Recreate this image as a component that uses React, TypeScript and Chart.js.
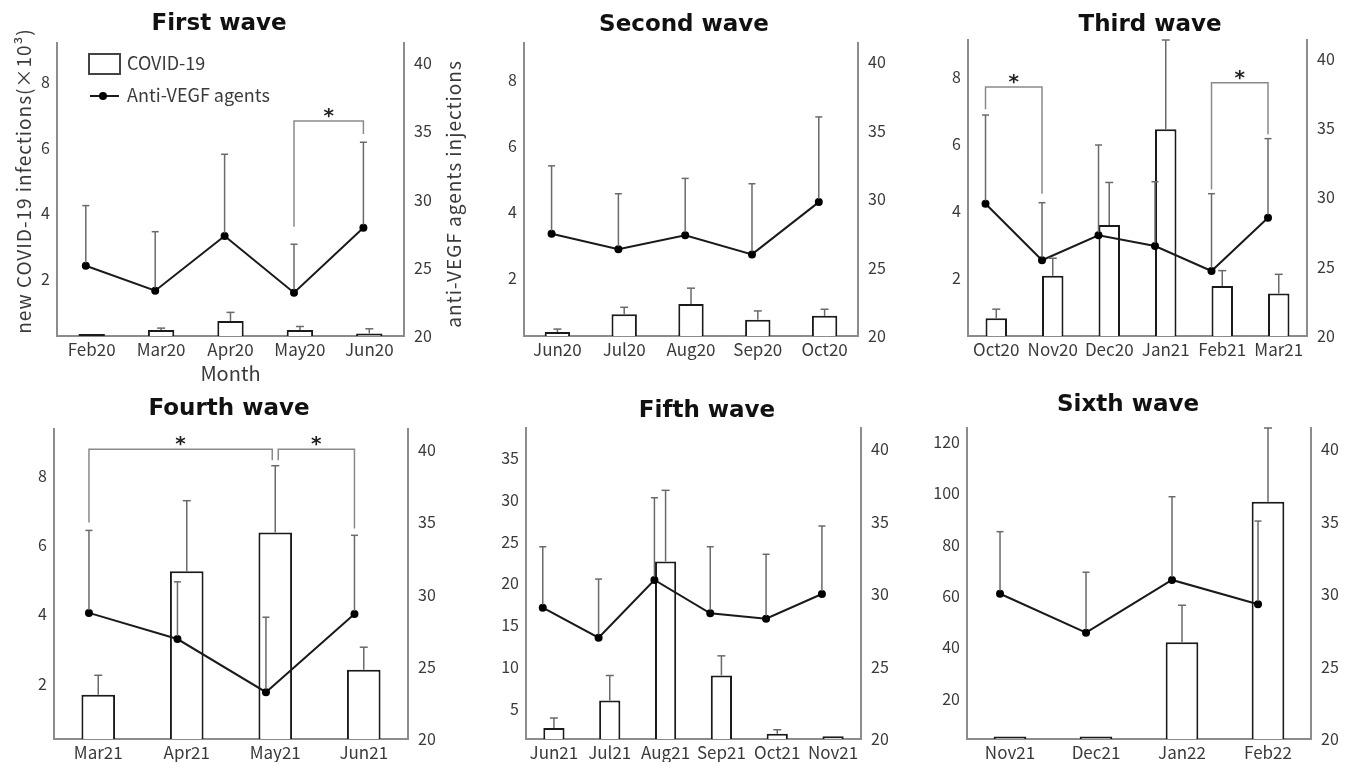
import React, { useEffect, useRef } from "react";
import { Chart, registerables } from "chart.js";

Chart.register(...registerables);

// ---------------- data ----------------
const wave1Months = ["Feb20", "Mar20", "Apr20", "May20", "Jun20"];
const wave1Covid = [0.32, 0.44, 0.72, 0.44, 0.34];
const wave1CovidSD = [0, 0.06, 0.26, 0.11, 0.14];
const wave1Vegf = [25.15, 23.32, 27.33, 23.17, 27.93];
const wave1VegfSD = [4.4, 4.32, 5.98, 3.55, 6.26];
const wave1Sig = [{ from: 3, to: 4, top: 35.75, fromEnd: 28.0, toEnd: 34.8 }];

const wave2Months = ["Jun20", "Jul20", "Aug20", "Sep20", "Oct20"];
const wave2Covid = [0.36, 0.9, 1.21, 0.73, 0.85];
const wave2CovidSD = [0.09, 0.21, 0.48, 0.27, 0.2];
const wave2Vegf = [27.47, 26.33, 27.35, 25.96, 29.78];
const wave2VegfSD = [4.96, 4.06, 4.16, 5.16, 6.22];
const wave2Sig: Sig[] = [];

const wave3Months = ["Oct20", "Nov20", "Dec20", "Jan21", "Feb21", "Mar21"];
const wave3Covid = [0.8, 2.07, 3.58, 6.44, 1.76, 1.54];
const wave3CovidSD = [0.27, 0.52, 1.27, 2.66, 0.46, 0.57];
const wave3Vegf = [29.54, 25.46, 27.26, 26.49, 24.69, 28.53];
const wave3VegfSD = [6.39, 4.15, 6.51, 4.63, 5.57, 5.7];
const wave3Sig = [
  { from: 0, to: 1, top: 37.95, fromEnd: 36.34, toEnd: 30.26 },
  { from: 4, to: 5, top: 38.26, fromEnd: 30.57, toEnd: 34.54 },
];

const wave4Months = ["Mar21", "Apr21", "May21", "Jun21"];
const wave4Covid = [1.68, 5.24, 6.36, 2.4];
const wave4CovidSD = [0.56, 2.04, 1.93, 0.65];
const wave4Vegf = [28.73, 26.92, 23.24, 28.66];
const wave4VegfSD = [5.71, 3.96, 5.19, 5.44];
const wave4Sig = [
  { from: 0, to: 2, top: 40.05, fromEnd: 34.98, toEnd: 39.3 },
  { from: 2, to: 3, top: 40.05, fromEnd: 39.3, toEnd: 34.58 },
];

const wave5Months = ["Jun21", "Jul21", "Aug21", "Sep21", "Oct21", "Nov21"];
const wave5Covid = [2.69, 5.99, 22.63, 8.98, 2.02, 1.7];
const wave5CovidSD = [1.2, 2.99, 8.51, 2.35, 0.47, 0];
const wave5Vegf = [29.06, 26.99, 30.97, 28.67, 28.3, 30.0];
const wave5VegfSD = [4.2, 4.04, 5.67, 4.59, 4.44, 4.69];
const wave5Sig: Sig[] = [];

const wave6Months = ["Nov21", "Dec21", "Jan22", "Feb22"];
const wave6Covid = [5.3, 5.3, 42.0, 96.7];
const wave6CovidSD = [0, 0, 14.4, 28.7];
const wave6Vegf = [30.02, 27.33, 30.97, 29.29];
const wave6VegfSD = [4.28, 4.17, 5.74, 5.74];
const wave6Sig: Sig[] = [];

const smallTicks = [2, 4, 6, 8];
const fifthTicks = [5, 10, 15, 20, 25, 30, 35];
const sixthTicks = [20, 40, 60, 80, 100, 120];
const rightTicks = [20, 25, 30, 35, 40];

const covidLabel = "COVID-19";
const vegfLabel = "Anti-VEGF agents";
const leftTitle = "new COVID-19 infections(×10³)";
const rightTitle = "anti-VEGF agents injections";
const xTitle = "Month";

// ---------------- styling ----------------
type Sig = { from: number; to: number; top: number; fromEnd: number; toEnd: number };

const AXIS = "#8c8c8c";
const TXT = "#3a3a3a";
const ERR = "#6a6a6a";
const BRACKET = "#8a8a8a";
const INK = "#1a1a1a";
const FONT = '"Noto Sans CJK JP", "Noto Sans", sans-serif';
const TITLE_FONT = '"DejaVu Sans", sans-serif';

type PanelCfg = {
  title: string;
  titleX: number;
  titleY: number;
  box: { x: number; y: number; w: number; h: number };
  area: { L: number; T: number; R: number; B: number };
  months: string[];
  covid: number[];
  covidSD: number[];
  vegf: number[];
  vegfSD: number[];
  sig: Sig[];
  leftTicks: number[];
  leftMin: number;
  leftMax: number;
  rightMax: number;
  shift: number;
  first?: boolean;
};

const panels: PanelCfg[] = [
  {
    title: "First wave", titleX: 219, titleY: 29.5,
    box: { x: 0, y: 0, w: 470, h: 390 }, area: { L: 57, T: 43, R: 404, B: 336 },
    months: wave1Months, covid: wave1Covid, covidSD: wave1CovidSD, vegf: wave1Vegf, vegfSD: wave1VegfSD, sig: wave1Sig,
    leftTicks: smallTicks, leftMin: 0.26, leftMax: 9.19, rightMax: 41.46, shift: 0.085, first: true,
  },
  {
    title: "Second wave", titleX: 684, titleY: 30.5,
    box: { x: 470, y: 0, w: 430, h: 390 }, area: { L: 524, T: 43, R: 858, B: 336 },
    months: wave2Months, covid: wave2Covid, covidSD: wave2CovidSD, vegf: wave2Vegf, vegfSD: wave2VegfSD, sig: wave2Sig,
    leftTicks: smallTicks, leftMin: 0.24, leftMax: 9.12, rightMax: 41.4, shift: 0.087,
  },
  {
    title: "Third wave", titleX: 1150, titleY: 30.5,
    box: { x: 905, y: 0, w: 447, h: 390 }, area: { L: 968, T: 40, R: 1307, B: 336 },
    months: wave3Months, covid: wave3Covid, covidSD: wave3CovidSD, vegf: wave3Vegf, vegfSD: wave3VegfSD, sig: wave3Sig,
    leftTicks: smallTicks, leftMin: 0.27, leftMax: 9.1, rightMax: 41.34, shift: 0.19,
  },
  {
    title: "Fourth wave", titleX: 229, titleY: 415,
    box: { x: 0, y: 385, w: 460, h: 377 }, area: { L: 54, T: 429, R: 408, B: 739 },
    months: wave4Months, covid: wave4Covid, covidSD: wave4CovidSD, vegf: wave4Vegf, vegfSD: wave4VegfSD, sig: wave4Sig,
    leftTicks: smallTicks, leftMin: 0.4, leftMax: 9.35, rightMax: 41.46, shift: 0.105,
  },
  {
    title: "Fifth wave", titleX: 707, titleY: 416.5,
    box: { x: 460, y: 385, w: 440, h: 377 }, area: { L: 526, T: 428, R: 861, B: 739 },
    months: wave5Months, covid: wave5Covid, covidSD: wave5CovidSD, vegf: wave5Vegf, vegfSD: wave5VegfSD, sig: wave5Sig,
    leftTicks: fifthTicks, leftMin: 1.38, leftMax: 38.6, rightMax: 41.45, shift: 0.2,
  },
  {
    title: "Sixth wave", titleX: 1128, titleY: 411,
    box: { x: 905, y: 385, w: 447, h: 377 }, area: { L: 967, T: 428, R: 1311, B: 739 },
    months: wave6Months, covid: wave6Covid, covidSD: wave6CovidSD, vegf: wave6Vegf, vegfSD: wave6VegfSD, sig: wave6Sig,
    leftTicks: sixthTicks, leftMin: 4.34, leftMax: 125.4, rightMax: 41.45, shift: 0.116,
  },
];

function seg(ctx: CanvasRenderingContext2D, x1: number, y1: number, x2: number, y2: number) {
  ctx.beginPath();
  ctx.moveTo(x1, y1);
  ctx.lineTo(x2, y2);
  ctx.stroke();
}

function makeDecor(p: PanelCfg) {
  return {
    id: "decor",
    afterDatasetsDraw(chart: any) {
      const ctx: CanvasRenderingContext2D = chart.ctx;
      const yl = chart.scales.y;
      const yr = chart.scales.y1;
      const lineMeta = chart.getDatasetMeta(0);
      const barMeta = chart.getDatasetMeta(1);
      ctx.save();
      ctx.strokeStyle = ERR;
      ctx.lineWidth = 1.5;
      barMeta.data.forEach((el: any, i: number) => {
        const sd = p.covidSD[i];
        if (!sd) return;
        const yc = yl.getPixelForValue(p.covid[i] + sd);
        seg(ctx, el.x, el.y, el.x, yc);
        seg(ctx, el.x - 4, yc, el.x + 4, yc);
      });
      lineMeta.data.forEach((el: any, i: number) => {
        const sd = p.vegfSD[i];
        if (!sd) return;
        const yc = yr.getPixelForValue(p.vegf[i] + sd);
        seg(ctx, el.x, el.y - 3, el.x, yc);
        seg(ctx, el.x - 3.5, yc, el.x + 3.5, yc);
      });
      // significance brackets
      ctx.strokeStyle = BRACKET;
      ctx.lineWidth = 1.5;
      ctx.fillStyle = "#222";
      ctx.font = `bold 20px ${TITLE_FONT}`;
      ctx.textAlign = "center";
      ctx.textBaseline = "alphabetic";
      p.sig.forEach((s) => {
        const sharedFrom = p.sig.some((o) => o !== s && o.to === s.from);
        const sharedTo = p.sig.some((o) => o !== s && o.from === s.to);
        const xa = sharedFrom ? barMeta.data[s.from].x + 3 : lineMeta.data[s.from].x;
        const xb = sharedTo ? barMeta.data[s.to].x - 3 : lineMeta.data[s.to].x;
        const yt = yr.getPixelForValue(s.top);
        ctx.beginPath();
        ctx.moveTo(xa, yr.getPixelForValue(s.fromEnd));
        ctx.lineTo(xa, yt);
        ctx.lineTo(xb, yt);
        ctx.lineTo(xb, yr.getPixelForValue(s.toEnd));
        ctx.stroke();
        ctx.fillText("*", (xa + xb) / 2, yt + 1);
      });
      ctx.restore();
    },
    afterDraw(chart: any) {
      const ctx: CanvasRenderingContext2D = chart.ctx;
      const ox = p.box.x;
      const oy = p.box.y;
      ctx.save();
      ctx.fillStyle = "#111";
      ctx.font = `bold 23px ${TITLE_FONT}`;
      ctx.textAlign = "center";
      ctx.textBaseline = "alphabetic";
      ctx.fillText(p.title, p.titleX - ox, p.titleY - oy);

      if (p.first) {
        ctx.fillStyle = TXT;
        ctx.textBaseline = "middle";
        // axis titles (rotated, reading bottom to top)
        ctx.save();
        ctx.font = `19px ${FONT}`;
        (ctx as any).letterSpacing = "1px";
        ctx.translate(24 - ox, 181 - oy);
        ctx.rotate(-Math.PI / 2);
        ctx.textAlign = "center";
        ctx.fillText(leftTitle, 0, 0);
        ctx.restore();
        ctx.save();
        ctx.font = `19px ${FONT}`;
        (ctx as any).letterSpacing = "1px";
        ctx.translate(454 - ox, 194 - oy);
        ctx.rotate(-Math.PI / 2);
        ctx.textAlign = "center";
        ctx.fillText(rightTitle, 0, 0);
        ctx.restore();
        // legend
        ctx.font = `18px ${FONT}`;
        ctx.strokeStyle = "#444";
        ctx.lineWidth = 2;
        ctx.fillStyle = "#fff";
        ctx.fillRect(89, 54, 31, 20);
        ctx.strokeRect(89, 54, 31, 20);
        ctx.strokeStyle = INK;
        seg(ctx, 90, 96, 119, 96);
        ctx.fillStyle = "#000";
        ctx.beginPath();
        ctx.arc(103, 96, 4, 0, Math.PI * 2);
        ctx.fill();
        ctx.fillStyle = TXT;
        ctx.textAlign = "left";
        ctx.fillText(covidLabel, 127, 63);
        ctx.fillText(vegfLabel, 127, 95);
      }
      ctx.restore();
    },
  };
}

function buildConfig(p: PanelCfg): any {
  const n = p.months.length;
  const leftW = p.area.L - p.box.x;
  const rightW = p.box.x + p.box.w - p.area.R;
  const bottomH = p.box.y + p.box.h - p.area.B;
  const noGrid = { display: false, drawTicks: false };
  const border = { display: true, color: AXIS, width: 2 };
  return {
    type: "bar",
    data: {
      labels: p.months,
      datasets: [
        {
          type: "line",
          label: vegfLabel,
          data: p.vegf.map((v, i) => ({ x: i, y: v })),
          xAxisID: "xl",
          yAxisID: "y1",
          order: 0,
          borderColor: INK,
          borderWidth: 2,
          pointRadius: 4,
          pointBackgroundColor: "#000",
          pointBorderWidth: 0,
          tension: 0,
          fill: false,
        },
        {
          type: "bar",
          label: covidLabel,
          data: p.covid,
          xAxisID: "x",
          yAxisID: "y",
          order: 1,
          grouped: false,
          backgroundColor: "#fff",
          borderColor: INK,
          borderWidth: 2,
          barPercentage: 0.38,
          categoryPercentage: 1,
        },
      ],
    },
    options: {
      responsive: false,
      animation: false,
      devicePixelRatio: 1,
      layout: { padding: { top: p.area.T - p.box.y, left: 0, right: 0, bottom: 0 } },
      plugins: { legend: { display: false }, tooltip: { enabled: false }, title: { display: false } },
      scales: {
        x: {
          type: "category",
          position: "bottom",
          offset: true,
          grid: noGrid,
          border,
          ticks: { color: TXT, font: { family: FONT, size: 17 }, padding: 3, maxRotation: 0, autoSkip: false },
          title: p.first
            ? { display: true, text: xTitle, color: TXT, font: { family: FONT, size: 20 }, padding: { top: 0, bottom: 5 } }
            : { display: false },
          afterFit: (s: any) => {
            s.height = bottomH;
          },
        },
        xl: {
          type: "linear",
          display: false,
          offset: false,
          min: -0.5 + p.shift,
          max: n - 0.5 + p.shift,
          grid: { offset: false },
        },
        y: {
          type: "linear",
          position: "left",
          min: p.leftMin,
          max: p.leftMax,
          grid: noGrid,
          border,
          ticks: { color: TXT, font: { family: FONT, size: 16 }, padding: 7 },
          afterBuildTicks: (s: any) => {
            s.ticks = p.leftTicks.map((v) => ({ value: v }));
          },
          afterFit: (s: any) => {
            s.width = leftW;
          },
        },
        y1: {
          type: "linear",
          position: "right",
          min: 20,
          max: p.rightMax,
          grid: noGrid,
          border,
          ticks: { color: TXT, font: { family: FONT, size: 16 }, padding: 10 },
          afterBuildTicks: (s: any) => {
            s.ticks = rightTicks.map((v) => ({ value: v }));
          },
          afterFit: (s: any) => {
            s.width = rightW;
          },
        },
      },
    },
    plugins: [makeDecor(p)],
  };
}

function Panel({ p }: { p: PanelCfg }) {
  const ref = useRef<HTMLCanvasElement>(null);
  useEffect(() => {
    if (!ref.current) return;
    const chart = new Chart(ref.current, buildConfig(p));
    return () => chart.destroy();
  }, [p]);
  return (
    <canvas
      ref={ref}
      width={p.box.w}
      height={p.box.h}
      style={{ position: "absolute", left: p.box.x, top: p.box.y, width: p.box.w, height: p.box.h }}
    />
  );
}

export default function App() {
  return (
    <div
      style={{
        position: "absolute",
        left: 0,
        top: 0,
        width: 1352,
        height: 762,
        background: "#fff",
        overflow: "hidden",
      }}
    >
      {panels.map((p) => (
        <Panel key={p.title} p={p} />
      ))}
    </div>
  );
}
